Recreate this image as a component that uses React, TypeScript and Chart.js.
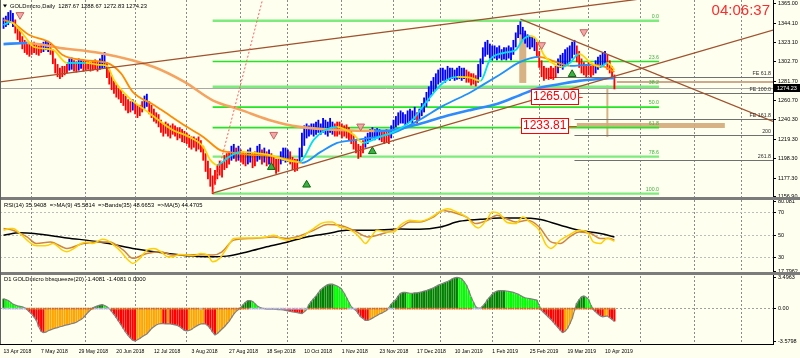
import React, { useEffect, useRef } from 'react';
import { Chart, registerables } from 'chart.js';

Chart.register(...registerables);

const FONT = '"Liberation Sans", Arial, sans-serif';
const BG = '#FFFFF0';
const MONTHS = ['Jan', 'Feb', 'Mar', 'Apr', 'May', 'Jun', 'Jul', 'Aug', 'Sep', 'Oct', 'Nov', 'Dec'];
const HOLIDAYS = ['2018-12-25', '2019-01-01'];
const N_CATS = 329; // trading days shown incl. right-hand shift area
const BAR0 = 1; // category index of the first bar (13 Apr 2018)

// ---- price bars (daily) ----
const lows = [
  1338, 1340, 1342, 1345, 1340, 1333, 1326, 1322, 1316, 1312,
  1310, 1308, 1310, 1312, 1310, 1309, 1312, 1313, 1315, 1313,
  1310, 1300, 1290, 1286, 1284, 1286, 1288, 1290, 1293, 1294,
  1292, 1291, 1293, 1295, 1292, 1293, 1294, 1292, 1293, 1294,
  1292, 1294, 1295, 1296, 1285, 1278, 1272, 1268, 1264, 1262,
  1258, 1255, 1250, 1247, 1248, 1250, 1246, 1242, 1244, 1248,
  1252, 1254, 1246, 1242, 1238, 1236, 1232, 1226, 1222, 1225,
  1222, 1220, 1224, 1222, 1218, 1220, 1216, 1215, 1214, 1210,
  1208, 1210, 1206, 1208, 1205, 1196, 1184, 1176, 1168, 1160,
  1170, 1176, 1180, 1178, 1186, 1188, 1192, 1196, 1198, 1195,
  1196, 1194, 1192, 1190, 1192, 1194, 1188, 1190, 1195, 1197,
  1192, 1194, 1190, 1192, 1190, 1186, 1182, 1184, 1192, 1196,
  1194, 1195, 1192, 1186, 1184, 1185, 1194, 1200, 1212, 1220,
  1222, 1224, 1222, 1224, 1226, 1224, 1226, 1224, 1222, 1226,
  1224, 1222, 1222, 1224, 1220, 1222, 1220, 1218, 1214, 1208,
  1204, 1198, 1200, 1204, 1210, 1214, 1218, 1220, 1218, 1220,
  1218, 1216, 1214, 1216, 1214, 1220, 1228, 1232, 1234, 1236,
  1236, 1234, 1236, 1238, 1236, 1240, 1236, 1240, 1244, 1248,
  1254, 1260, 1266, 1270, 1272, 1278, 1280, 1282, 1280, 1284,
  1282, 1284, 1282, 1283, 1284, 1282, 1284, 1280, 1280, 1277,
  1278, 1276, 1280, 1286, 1300, 1308, 1310, 1306, 1304, 1306,
  1304, 1306, 1304, 1305, 1304, 1306, 1304, 1310, 1318, 1328,
  1332, 1326, 1322, 1318, 1316, 1318, 1314, 1308, 1296, 1286,
  1282, 1284, 1283, 1284, 1283, 1285, 1290, 1296, 1294, 1298,
  1300, 1302, 1306, 1310, 1302, 1296, 1290, 1288, 1286, 1288,
  1286, 1288, 1290, 1294, 1296, 1298, 1300, 1294, 1290, 1286,
  1272.83,
];
const highs = [
  1350, 1352, 1356, 1358, 1355, 1348, 1340, 1336, 1330, 1326,
  1324, 1322, 1322, 1324, 1322, 1320, 1322, 1324, 1326, 1325,
  1322, 1316, 1306, 1300, 1296, 1298, 1298, 1300, 1306, 1307,
  1304, 1303, 1306, 1305, 1304, 1304, 1303, 1302, 1304, 1305,
  1303, 1306, 1310, 1313, 1302, 1294, 1288, 1282, 1278, 1274,
  1272, 1268, 1266, 1262, 1260, 1262, 1258, 1256, 1256, 1260,
  1266, 1268, 1260, 1256, 1252, 1248, 1246, 1240, 1236, 1238,
  1236, 1234, 1236, 1234, 1232, 1232, 1230, 1228, 1226, 1224,
  1222, 1222, 1220, 1222, 1218, 1212, 1204, 1196, 1188, 1180,
  1186, 1192, 1196, 1194, 1202, 1204, 1206, 1212, 1214, 1210,
  1212, 1208, 1206, 1204, 1208, 1210, 1204, 1206, 1212, 1214,
  1208, 1210, 1206, 1208, 1204, 1200, 1198, 1198, 1206, 1210,
  1210, 1208, 1206, 1200, 1198, 1198, 1210, 1226, 1234, 1236,
  1234, 1236, 1236, 1238, 1240, 1236, 1242, 1240, 1238, 1242,
  1238, 1236, 1238, 1238, 1236, 1234, 1235, 1232, 1228, 1224,
  1218, 1214, 1212, 1218, 1222, 1226, 1230, 1232, 1230, 1231,
  1230, 1229, 1228, 1230, 1228, 1234, 1240, 1244, 1248, 1250,
  1248, 1246, 1250, 1252, 1250, 1254, 1248, 1252, 1258, 1264,
  1270, 1276, 1282, 1286, 1290, 1294, 1296, 1296, 1294, 1298,
  1296, 1296, 1294, 1296, 1298, 1296, 1296, 1294, 1292, 1290,
  1290, 1288, 1300, 1306, 1318, 1324, 1326, 1322, 1320, 1320,
  1318, 1320, 1316, 1318, 1318, 1320, 1318, 1326, 1334, 1342,
  1346, 1340, 1336, 1332, 1330, 1330, 1328, 1324, 1314, 1304,
  1298, 1296, 1296, 1298, 1296, 1298, 1306, 1310, 1312, 1316,
  1318, 1320, 1324, 1326, 1320, 1314, 1306, 1302, 1300, 1302,
  1298, 1300, 1304, 1308, 1310, 1312, 1314, 1310, 1304, 1298,
  1288.67,
];
// B = blue (up) bar, R = red (down) bar
const barDir = [
  'BBBBBRRRRR', 'RRRRRRRBBB', 'RRRRRRRRBB', 'RRBBRRRRRR', 'RBBBRRRRRR',
  'RRRRRBRRRR', 'BBRRRRRRRR', 'RRRRRRRRRR', 'RRRRRRRRRR', 'RRRRRRRBBR',
  'BRRRBBRRBB', 'RBRBRRRRBB', 'BBRRRRBBBB', 'BBBBBBBBBB', 'BRRRRRRRRR',
  'RRRRBBBBBB', 'BRRRRBBBBB', 'BBBBBBRBBB', 'BBBBBBBBBB', 'BBBBBBBRRR',
  'RRBBBBBBBB', 'BBBBBBBBBB', 'BBBBBBBRRR', 'RRRRRRBBBB', 'BBBBRRRRRR',
  'RRBBBBBRRR', 'R',
].join('');

// ---- moving averages on price: [bar index, price] ----
const maFast: [number, number][] = [
  [0, 1342], [3, 1345.5], [5, 1342], [9, 1330], [13, 1318.4], [21, 1315.2], [27, 1301.2], [35, 1301.2],
  [41, 1299.1], [44, 1298], [47, 1282.9], [53, 1264.6], [62, 1247.4], [72, 1229.1], [79, 1221.6],
  [85, 1210.9], [88, 1196.9], [91, 1191.5], [96, 1200.1], [101, 1205.5], [107, 1204.4], [113, 1202.3],
  [120, 1196.9], [126, 1194.7], [132, 1218.4], [137, 1229.1], [142, 1232.4], [149, 1223.8], [153, 1215.2],
  [160, 1221.6], [166, 1227], [174, 1239.9], [180, 1259.3], [187, 1279.7], [193, 1286.2], [199, 1285.1],
  [203, 1281.9], [207, 1304.5], [213, 1312], [218, 1315.2], [221, 1326], [224, 1330.3], [227, 1326],
  [230, 1309.8], [235, 1299.1], [238, 1296.9], [241, 1301.2], [245, 1310.9], [250, 1301.2], [254, 1296.9],
  [257, 1301.2], [260, 1293.7],
];
const maMid: [number, number][] = [
  [0, 1347.5], [4, 1344.3], [11, 1331.3], [20, 1322.7], [25, 1310], [35, 1304], [44, 1301.2], [50, 1290],
  [55, 1270], [64, 1256], [67, 1251], [78, 1232.4], [85, 1221.6], [92, 1207.6], [98, 1204.4], [105, 1202.3],
  [113, 1201.2], [122, 1196.9], [127, 1193.6], [135, 1205.5], [142, 1215.2], [150, 1218.4], [156, 1220.5],
  [166, 1225.9], [177, 1239.9], [187, 1255], [199, 1270], [204, 1277.6], [211, 1288.3], [220, 1302.3],
  [228, 1307.7], [235, 1302.3], [241, 1298], [250, 1299.1], [256, 1296.9], [260, 1291.5],
];
const maSlow: [number, number][] = [
  [0, 1321.5], [10, 1322.7], [24, 1317.4], [41, 1312], [64, 1296.9], [77, 1280.8], [89, 1261], [101, 1250.7],
  [113, 1239.9], [126, 1232.4], [143, 1229.1], [158, 1228.1], [166, 1229.1], [177, 1235.6], [187, 1243.1],
  [199, 1250.7], [210, 1257.1], [220, 1266.8], [228, 1274.3], [237, 1278.6], [245, 1281.9], [254, 1284],
  [260, 1285.1],
];

// ---- signal arrows: [bar index, price] ----
const sellArrows: [number, number][] = [[7, 1353], [115, 1224], [152, 1233], [229, 1320.6], [247, 1334.6]];
const buyArrows: [number, number][] = [[114, 1189], [129, 1170], [157, 1206], [242, 1289]];

// ---- RSI window lines: [bar index, value] ----
const rsiMa5: [number, number][] = [
  [0, 54.4], [3, 56], [4, 56], [7, 51.5], [10, 45.6], [13, 41.1], [16, 40.5], [19, 41.1], [21, 42.6], [25, 36.7],
  [27, 35.2], [30, 38.2], [33, 42.6], [36, 44], [38, 42.6], [41, 45.6], [42, 46.4], [44, 45.6], [47, 41.1],
  [50, 35.2], [53, 27.8], [55, 24.8], [58, 29.3], [61, 36.7], [64, 38.2], [67, 35.2], [70, 30.7], [72, 30.7],
  [75, 32.8], [78, 32.2], [81, 31.6], [84, 33.7], [87, 32.2], [89, 26.3], [92, 29.3], [95, 38.2], [98, 47.1],
  [101, 47.6], [106, 47.6], [112, 48.5], [115, 50], [118, 47.1], [121, 45.6], [123, 47.1], [126, 47.6],
  [129, 51.5], [132, 56], [135, 60.4], [138, 61.8], [140, 61.8], [143, 57.4], [146, 56], [149, 52.9],
  [152, 47.1], [154, 42.6], [156, 47.1], [159, 54.4], [163, 52.9], [166, 52.9], [169, 59], [173, 63.3],
  [177, 62.4], [181, 64.8], [186, 71.3], [189, 73.7], [193, 70.7], [197, 66.3], [202, 56.5], [206, 64.8],
  [208, 70.7], [211, 69.3], [214, 61.8], [218, 60.4], [221, 66.3], [224, 61.8], [228, 54.4], [231, 41.1],
  [233, 38.2], [237, 45.6], [241, 50.6], [245, 54.4], [249, 51.5], [251, 44], [254, 42.6], [257, 47.6],
  [259, 45.6], [260, 44.5],
];
const rsiMa9: [number, number][] = [
  [0, 56], [4, 54.4], [10, 48.5], [14, 42.6], [20, 44], [27, 38.2], [34, 42.6], [41, 44], [45, 44], [51, 36.7],
  [55, 29.3], [61, 33.7], [67, 35.2], [72, 32.2], [78, 32.2], [84, 32.8], [89, 32.2], [93, 35.2], [98, 45.6],
  [106, 47.1], [115, 48.5], [121, 47.1], [126, 49.4], [132, 54.4], [138, 59.5], [143, 58.9], [149, 54.4],
  [155, 48.5], [159, 50], [163, 52.4], [169, 57], [173, 61.8], [177, 61.8], [183, 66.3], [187, 72.2],
  [191, 70.7], [197, 66.3], [201, 60.4], [206, 63.3], [210, 67.8], [214, 64.8], [218, 61.8], [223, 63.3],
  [228, 57.4], [233, 44], [237, 42.6], [241, 48.5], [245, 52.9], [250, 51.5], [254, 47.1], [258, 47.1],
  [260, 45.6],
];
const rsiBands: [number, number][] = [
  [0, 50], [7, 52.1], [13, 51.5], [27, 47.6], [41, 44], [47, 41.7], [55, 38.2], [70, 33.7], [78, 31.6],
  [87, 30.7], [95, 31.3], [104, 35.2], [112, 39.6], [121, 44], [129, 48.5], [138, 51.5], [146, 54.4],
  [155, 54.4], [169, 55.6], [177, 55.3], [186, 57.4], [194, 62.4], [203, 64.2], [211, 65.4], [220, 65.4],
  [228, 64.2], [237, 58.9], [245, 54.4], [254, 51.5], [260, 48.5],
];

// ---- bbsqueeze histogram ----
const hist = [
  1.1, 1.0, 0.9, 0.7, 0.5, 0.4, 0.3, 0.25, 0.2, 0.1,
  -0.1, -0.35, -0.6, -0.95, -1.3, -2.0, -2.5, -2.65, -2.6, -2.45,
  -2.35, -2.25, -2.15, -2.1, -2.0, -1.95, -1.85, -1.8, -1.75, -1.65,
  -1.6, -1.5, -1.35, -1.2, -1.0, -0.7, -0.4, -0.15, 0.1, 0.2,
  0.3, 0.4, 0.45, 0.35, 0.2, 0.0, -0.3, -0.65, -1.0, -1.4,
  -1.8, -2.2, -2.6, -2.95, -3.25, -3.5, -3.58, -3.45, -3.3, -3.1,
  -2.95, -2.8, -2.5, -2.2, -2.0, -1.8, -1.7, -1.65, -1.65, -1.7,
  -1.65, -1.7, -1.75, -1.8, -1.85, -2.0, -2.2, -2.4, -2.45, -2.4,
  -2.3, -2.1, -1.95, -1.8, -1.7, -1.65, -1.7, -1.9, -2.2, -2.6,
  -2.9, -2.75, -2.5, -2.25, -2.0, -1.7, -1.4, -1.0, -0.6, -0.3,
  -0.1, 0.15, 0.45, 0.7, 0.9, 0.9, 0.8, 0.55, 0.3, 0.15,
  0.05, 0.0, -0.05, -0.05, -0.05, -0.05, -0.08, -0.1, -0.1, -0.15,
  -0.2, -0.25, -0.3, -0.35, -0.4, -0.45, -0.5, -0.55, -0.35, -0.1,
  0.45, 0.8, 1.1, 1.4, 1.75, 2.1, 2.3, 2.5, 2.65, 2.7,
  2.7, 2.6, 2.5, 2.35, 2.1, 1.7, 1.2, 0.7, 0.2, 0.0,
  -0.2, -0.55, -0.9, -1.1, -1.3, -1.3, -1.2, -1.05, -0.9, -0.75,
  -0.6, -0.5, -0.35, -0.2, 0.1, 0.5, 0.75, 1.0, 1.4, 1.7,
  1.8, 1.8, 1.75, 1.7, 1.7, 1.75, 1.75, 1.8, 1.85, 1.95,
  2.0, 2.1, 2.2, 2.3, 2.45, 2.6, 2.7, 2.8, 2.9, 3.0,
  3.15, 3.3, 3.4, 3.45, 3.4, 3.3, 3.0, 2.6, 2.0, 1.3,
  0.7, 0.2, 0.05, 0.05, 0.3, 0.6, 1.0, 1.3, 1.6, 1.8,
  1.95, 2.0, 2.0, 2.0, 1.95, 1.9, 1.85, 1.8, 1.7, 1.6,
  1.45, 1.3, 1.2, 1.15, 1.1, 1.05, 1.0, 0.95, 0.3, -0.2,
  -0.45, -0.7, -0.95, -1.2, -1.5, -1.8, -2.1, -2.4, -2.65, -2.5,
  -2.2, -1.7, -1.1, -0.2, 0.6, 1.0, 1.3, 1.4, 1.25, 1.0,
  0.4, -0.1, -0.35, -0.6, -0.8, -0.9, -0.85, -0.8, -1.0, -1.2,
  -1.41,
];
const squeezeOn: [number, number][] = [[10, 38], [46, 83], [85, 104], [130, 146], [151, 163], [167, 199], [204, 260]];

// ---- axes ----
const xTickBars = [0, 16, 32, 48, 64, 80, 96, 112, 128, 144, 160, 176, 192, 208, 224, 240, 256];
const priceTicks = [1365.0, 1344.1, 1323.1, 1302.7, 1281.7, 1260.7, 1240.3, 1219.3, 1198.3, 1177.3, 1156.9];
const rsiTicks = [80.081, 70, 50, 30, 17.7962];
const histTicks = [3.4963, 0, -3.5798];

// ---- drawing objects ----
const bidPrice = 1274.23;
const fibHigh = 1346.7;
const fibLow = 1160.5;
const fibLevels = [0, 23.6, 38.2, 50, 61.8, 78.6, 100];
const fibFromBar = 89;
const fibToBar = 279;
const feLevels: { label: string; price: number; from: number }[] = [
  { label: 'FE 61.8', price: 1286.2, from: 232 },
  { label: 'FE 100.0', price: 1269.0, from: 243 },
  { label: 'FE 161.8', price: 1240.8, from: 243 },
  { label: '200', price: 1223.8, from: 243 },
  { label: '261.8', price: 1197.2, from: 243 },
];
const trendLines: { a: [number, number]; b: [number, number]; extLeft: boolean }[] = [
  { a: [0, 1281.3], b: [260, 1366.5], extLeft: true },
  { a: [89, 1161], b: [259, 1286.2], extLeft: false },
  { a: [220, 1348.5], b: [320, 1246], extLeft: false },
];
const dottedLine: { a: [number, number]; b: [number, number] } = { a: [89, 1161], b: [108, 1347.5] };
const priceBoxes = [
  { text: '1265.00', bar: 224.5, price: 1265.0, lineTo: 246.5 },
  { text: '1233.81', bar: 220.2, price: 1233.81, lineTo: 244 },
];
const tanShapes = [
  { b1: 221, p1: 1333.5, b2: 221, p2: 1279.7, w: 7 },
  { b1: 244, p1: 1233.81, b2: 307, p2: 1233.81, w: 5 },
  { b1: 257, p1: 1277, b2: 257, p2: 1221.6, w: 2 },
];
const tanLevel = { price: 1280.8, from: 261 };

function buildCategories() {
  const labels: string[] = [];
  const months: number[] = [];
  const d = new Date(Date.UTC(2018, 3, 12));
  while (labels.length < N_CATS) {
    const wd = d.getUTCDay();
    const iso = d.toISOString().slice(0, 10);
    if (wd !== 0 && wd !== 6 && HOLIDAYS.indexOf(iso) < 0) {
      labels.push(`${d.getUTCDate()} ${MONTHS[d.getUTCMonth()]} ${d.getUTCFullYear()}`);
      months.push(d.getUTCMonth());
    }
    d.setUTCDate(d.getUTCDate() + 1);
  }
  return { labels, months };
}

export default function App() {
  const ref = useRef<HTMLCanvasElement | null>(null);

  useEffect(() => {
    document.body.style.margin = '0';
    const canvas = ref.current;
    if (!canvas) return;

    const { labels, months } = buildCategories();
    const monthStart = new Set<number>();
    for (let i = 1; i < labels.length; i++) if (months[i] !== months[i - 1]) monthStart.add(i);
    const xLabelCats = new Set(xTickBars.map((b) => b + BAR0));

    const toCats = (vals: any[]) => {
      const a: any[] = new Array(N_CATS).fill(null);
      vals.forEach((v, i) => { a[i + BAR0] = v; });
      return a;
    };
    const toXY = (arr: [number, number][]) => arr.map(([b, v]) => ({ x: labels[b + BAR0], y: v }));

    const barData = toCats(lows.map((l, i) => [l, highs[i]]));
    const barColors = toCats(lows.map((_, i) => (barDir[i] === 'B' ? '#0000FF' : '#FF0000')));
    const histColors = toCats(hist.map((v, i) => {
      const p = i > 0 ? hist[i - 1] : v;
      if (v >= 0) return v >= p ? '#008000' : '#00FF00';
      return v <= p ? '#FF0000' : '#FFA500';
    }));
    const inSqueeze = (i: number) => squeezeOn.some(([a, b]) => i >= a && i <= b);
    const dotColors = toCats(hist.map((_, i) => (inSqueeze(i) ? '#D2691E' : '#B4B4DC')));

    const twoColor = (up: string, down: string) => ({
      borderColor: (c: any) => (c.p1.parsed.y >= c.p0.parsed.y ? up : down),
    });

    const lineBase = { type: 'line' as const, pointRadius: 0, fill: false, cubicInterpolationMode: 'monotone' as const };

    const line = (ctx: CanvasRenderingContext2D, x1: number, y1: number, x2: number, y2: number) => {
      ctx.beginPath(); ctx.moveTo(x1, y1); ctx.lineTo(x2, y2); ctx.stroke();
    };

    const overlay = {
      id: 'mt4overlay',
      beforeDraw(chart: any) {
        const { ctx, width, height } = chart;
        ctx.save(); ctx.fillStyle = BG; ctx.fillRect(0, 0, width, height); ctx.restore();
      },
      beforeDatasetsDraw(chart: any) {
        const { ctx, chartArea } = chart;
        const xs = chart.scales.x; const ys = chart.scales.y;
        const X = (b: number) => xs.getPixelForValue(b + BAR0);
        const Y = (p: number) => ys.getPixelForValue(p);
        ctx.save();
        ctx.beginPath(); ctx.rect(chartArea.left, ys.top, chartArea.right - chartArea.left, ys.bottom - ys.top); ctx.clip();
        // tan shapes
        ctx.strokeStyle = 'rgba(210,170,120,0.9)';
        tanShapes.forEach((t) => { ctx.lineWidth = t.w; line(ctx, X(t.b1), Y(t.p1), X(t.b2), Y(t.p2)); });
        ctx.strokeStyle = 'rgba(200,160,130,0.9)'; ctx.lineWidth = 2;
        line(ctx, X(tanLevel.from), Y(tanLevel.price), chartArea.right, Y(tanLevel.price));
        // bid line
        ctx.strokeStyle = '#A8A8A8'; ctx.lineWidth = 1;
        const by = Math.round(Y(bidPrice)) + 0.5;
        line(ctx, chartArea.left, by, chartArea.right, by);
        // fib retracement
        fibLevels.forEach((lv) => {
          const p = fibHigh - ((fibHigh - fibLow) * lv) / 100;
          const bright = lv === 23.6 || lv === 50 || lv === 61.8;
          ctx.strokeStyle = bright ? '#22E622' : '#7DEB7D';
          ctx.lineWidth = bright ? 1.6 : 2.4;
          line(ctx, X(fibFromBar), Y(p), X(fibToBar), Y(p));
        });
        // FE levels
        ctx.strokeStyle = '#707070'; ctx.lineWidth = 1;
        feLevels.forEach((f) => { const y = Math.round(Y(f.price)) + 0.5; line(ctx, X(f.from), y, chartArea.right, y); });
        ctx.restore();
      },
      afterDatasetsDraw(chart: any) {
        const { ctx, chartArea } = chart;
        const xs = chart.scales.x; const ys = chart.scales.y;
        const X = (b: number) => xs.getPixelForValue(b + BAR0);
        const Y = (p: number) => ys.getPixelForValue(p);
        ctx.save();
        ctx.beginPath(); ctx.rect(chartArea.left, ys.top, chartArea.right - chartArea.left, ys.bottom - ys.top); ctx.clip();
        // trend lines
        ctx.strokeStyle = '#A0522D'; ctx.lineWidth = 1.3;
        trendLines.forEach((t) => {
          const x1 = X(t.a[0]); const y1 = Y(t.a[1]); const x2 = X(t.b[0]); const y2 = Y(t.b[1]);
          const m = (y2 - y1) / (x2 - x1);
          const xa = t.extLeft ? chartArea.left : x1; const xb = chartArea.right;
          line(ctx, xa, y1 + m * (xa - x1), xb, y1 + m * (xb - x1));
        });
        // dotted red projection
        {
          const x1 = X(dottedLine.a[0]); const y1 = Y(dottedLine.a[1]);
          const x2 = X(dottedLine.b[0]); const y2 = Y(dottedLine.b[1]);
          const m = (y2 - y1) / (x2 - x1);
          const yt = ys.top; const xt = x1 + (yt - y1) / m;
          ctx.strokeStyle = '#FF5A5A'; ctx.lineWidth = 1; ctx.setLineDash([2, 2]);
          line(ctx, x1, y1, xt, yt); ctx.setLineDash([]);
        }
        // fib labels
        ctx.font = `5.3px ${FONT}`; ctx.fillStyle = '#3CB43C'; ctx.textAlign = 'right'; ctx.textBaseline = 'bottom';
        fibLevels.forEach((lv) => {
          const p = fibHigh - ((fibHigh - fibLow) * lv) / 100;
          ctx.fillText(lv.toFixed(1), X(fibToBar), Y(p) - 1.5);
        });
        // FE labels
        ctx.fillStyle = '#303030';
        feLevels.forEach((f) => ctx.fillText(f.label, chartArea.right - 2, Y(f.price) - 0.5));
        // price boxes
        ctx.font = `12px ${FONT}`; ctx.textAlign = 'left'; ctx.textBaseline = 'middle';
        priceBoxes.forEach((pb) => {
          const x = Math.round(X(pb.bar)) + 0.5; const y = Y(pb.price);
          const w = Math.ceil(ctx.measureText(pb.text).width) + 3;
          ctx.fillStyle = '#FFFFFF'; ctx.fillRect(x, Math.round(y - 7.5) + 0.5, w, 15);
          ctx.strokeStyle = '#FF0000'; ctx.lineWidth = 1; ctx.strokeRect(x, Math.round(y - 7.5) + 0.5, w, 15);
          ctx.fillStyle = '#FF0000'; ctx.fillText(pb.text, x + 1.5, y + 0.5);
          ctx.strokeStyle = '#FF3030';
          line(ctx, x + w, Math.round(y) + 0.5, X(pb.lineTo), Math.round(y) + 0.5);
        });
        ctx.restore();
      },
      afterDraw(chart: any) {
        const { ctx, chartArea, width } = chart;
        const ys = chart.scales.y; const yr = chart.scales.yRsi; const yh = chart.scales.yHist;
        ctx.save();
        // panel separators
        ctx.fillStyle = '#7C7C7C';
        ctx.fillRect(0, Math.round(yr.top) - 1, width, 3);
        ctx.fillRect(0, Math.round(yh.top) - 1, width, 3);
        // left frame
        ctx.strokeStyle = '#606060'; ctx.lineWidth = 1;
        line(ctx, 0.5, 0, 0.5, chartArea.bottom);
        // headers
        ctx.fillStyle = '#000'; ctx.textAlign = 'left'; ctx.textBaseline = 'middle';
        ctx.font = `5.8px ${FONT}`;
        ctx.beginPath(); ctx.moveTo(3, 4.5); ctx.lineTo(7, 4.5); ctx.lineTo(5, 7.5); ctx.closePath(); ctx.fill();
        ctx.fillText('GOLDmicro,Daily  1287.67 1288.67 1272.83 1274.23', 10, 6);
        ctx.fillText('RSI(14) 35.9408  =>MA(9) 45.5814  =>Bands(35) 48.6653  =>MA(5) 44.4705', 4, yr.top + 7);
        ctx.fillText('D1 GOLDmicro bbsqueeze(20) -1.4081 -1.4081 0.0000', 4, yh.top + 6);
        // clock
        ctx.font = `15px ${FONT}`; ctx.fillStyle = '#FF2A2A'; ctx.textAlign = 'right';
        ctx.fillText('04:06:37', 770, 11);
        // bid price tag on axis
        const by = ys.getPixelForValue(bidPrice);
        ctx.fillStyle = '#000'; ctx.fillRect(chartArea.right + 1, Math.round(by) - 4, 26, 8);
        ctx.fillStyle = '#FFF'; ctx.font = `5.5px ${FONT}`; ctx.textAlign = 'left';
        ctx.fillText(bidPrice.toFixed(2), chartArea.right + 4, by);
        ctx.restore();
      },
    };

    const yAxisCommon = (weight: number) => ({
      type: 'linear' as const,
      position: 'right' as const,
      stack: 'panels',
      stackWeight: weight,
      border: { display: true, color: '#000', dash: [2, 2] },
      ticks: { autoSkip: false, padding: 2, color: '#000', font: { family: FONT, size: 5.5 } },
      afterFit: (s: any) => { s.width = 27; s.paddingTop = 0; s.paddingBottom = 0; },
    });

    const chart = new Chart(canvas, {
      type: 'bar',
      data: {
        labels,
        datasets: [
          {
            type: 'bar', label: 'bars', yAxisID: 'y', data: barData, backgroundColor: barColors,
            barPercentage: 0.78, categoryPercentage: 1, grouped: false, borderWidth: 0, order: 10,
          } as any,
          { ...lineBase, label: 'slow', yAxisID: 'y', data: toXY(maSlow), borderWidth: 2.6, segment: twoColor('#2E8BFF', '#F4A460'), order: 4 } as any,
          { ...lineBase, label: 'mid', yAxisID: 'y', data: toXY(maMid), borderWidth: 1.8, segment: twoColor('#1E90FF', '#FF8C00'), order: 3 } as any,
          { ...lineBase, label: 'fast', yAxisID: 'y', data: toXY(maFast), borderWidth: 1.8, segment: twoColor('#00E0F0', '#FFD700'), order: 2 } as any,
          {
            type: 'line', label: 'sell', yAxisID: 'y', data: toXY(sellArrows), showLine: false, pointStyle: 'triangle',
            pointRotation: 180, pointRadius: 4.5, pointBackgroundColor: 'rgba(238,160,160,0.9)', pointBorderColor: '#C86464',
            pointBorderWidth: 1, order: 1,
          } as any,
          {
            type: 'line', label: 'buy', yAxisID: 'y', data: toXY(buyArrows), showLine: false, pointStyle: 'triangle',
            pointRadius: 4.5, pointBackgroundColor: '#3CB043', pointBorderColor: '#0A6A0A', pointBorderWidth: 1, order: 1,
          } as any,
          { ...lineBase, label: 'bands', yAxisID: 'yRsi', data: toXY(rsiBands), borderColor: '#000000', borderWidth: 1.5, order: 3 } as any,
          { ...lineBase, label: 'ma9', yAxisID: 'yRsi', data: toXY(rsiMa9), borderColor: '#CD853F', borderWidth: 1.5, order: 2 } as any,
          { ...lineBase, label: 'ma5', yAxisID: 'yRsi', data: toXY(rsiMa5), borderColor: '#FFD000', borderWidth: 1.5, order: 1 } as any,
          {
            type: 'bar', label: 'hist', yAxisID: 'yHist', data: toCats(hist), backgroundColor: histColors,
            barPercentage: 0.9, categoryPercentage: 1, grouped: false, borderWidth: 0, order: 10,
          } as any,
          {
            type: 'line', label: 'histline', yAxisID: 'yHist', data: toCats(hist), borderColor: '#808080',
            borderWidth: 1.2, pointRadius: 0, order: 5,
          } as any,
          {
            type: 'line', label: 'squeeze', yAxisID: 'yHist', data: toCats(hist.map(() => 0)), showLine: false,
            pointStyle: 'rect', pointRadius: 1.3, pointBackgroundColor: dotColors, pointBorderWidth: 0, order: 4,
          } as any,
        ],
      },
      options: {
        animation: false,
        responsive: false,
        devicePixelRatio: 1,
        layout: { padding: 0, autoPadding: false },
        plugins: { legend: { display: false }, tooltip: { enabled: false } },
        scales: {
          x: {
            type: 'category',
            offset: true,
            grid: {
              offset: false, drawTicks: false, lineWidth: 1,
              color: (c: any) => (monthStart.has(c.index) ? '#8A8A8A' : 'rgba(0,0,0,0)'),
            },
            border: { display: true, color: '#000', dash: [2, 2] },
            ticks: {
              autoSkip: false, maxRotation: 0, minRotation: 0, align: 'start', padding: 5, color: '#000',
              font: { family: FONT, size: 5.1 },
              callback: (_v: any, i: number) => (xLabelCats.has(i) ? labels[i] : ''),
            },
            afterFit: (s: any) => { s.height = 14; s.paddingLeft = 0; s.paddingRight = 0; },
          } as any,
          y: {
            ...yAxisCommon(198), min: 1155.8, max: 1369.0,
            grid: { drawOnChartArea: false, drawTicks: true, tickLength: 3, tickColor: '#000' },
            afterBuildTicks: (s: any) => { s.ticks = priceTicks.map((v) => ({ value: v })); },
            ticks: { ...yAxisCommon(0).ticks, callback: (v: any) => Number(v).toFixed(2) },
          } as any,
          yRsi: {
            ...yAxisCommon(75), min: 16.2, max: 83.3,
            grid: {
              drawTicks: true, tickLength: 3, tickColor: '#000',
              color: (c: any) => (c.tick && [70, 50, 30].indexOf(c.tick.value) >= 0 ? '#BDBDBD' : 'rgba(0,0,0,0)'),
            },
            afterBuildTicks: (s: any) => { s.ticks = rsiTicks.map((v) => ({ value: v })); },
            ticks: { ...yAxisCommon(0).ticks, callback: (v: any) => String(v) },
          } as any,
          yHist: {
            ...yAxisCommon(71), min: -3.91, max: 3.94,
            grid: {
              drawTicks: true, tickLength: 3, tickColor: '#000',
              color: (c: any) => (c.tick && c.tick.value === 0 ? '#A0A0A0' : 'rgba(0,0,0,0)'),
            },
            afterBuildTicks: (s: any) => { s.ticks = histTicks.map((v) => ({ value: v })); },
            ticks: { ...yAxisCommon(0).ticks, callback: (v: any) => (v === 0 ? '0.00' : String(v)) },
          } as any,
        },
      } as any,
      plugins: [overlay],
    } as any);

    return () => chart.destroy();
  }, []);

  return (
    <div style={{ width: 800, height: 358 }}>
      <canvas ref={ref} width={800} height={358} style={{ display: 'block', width: 800, height: 358 }} />
    </div>
  );
}
